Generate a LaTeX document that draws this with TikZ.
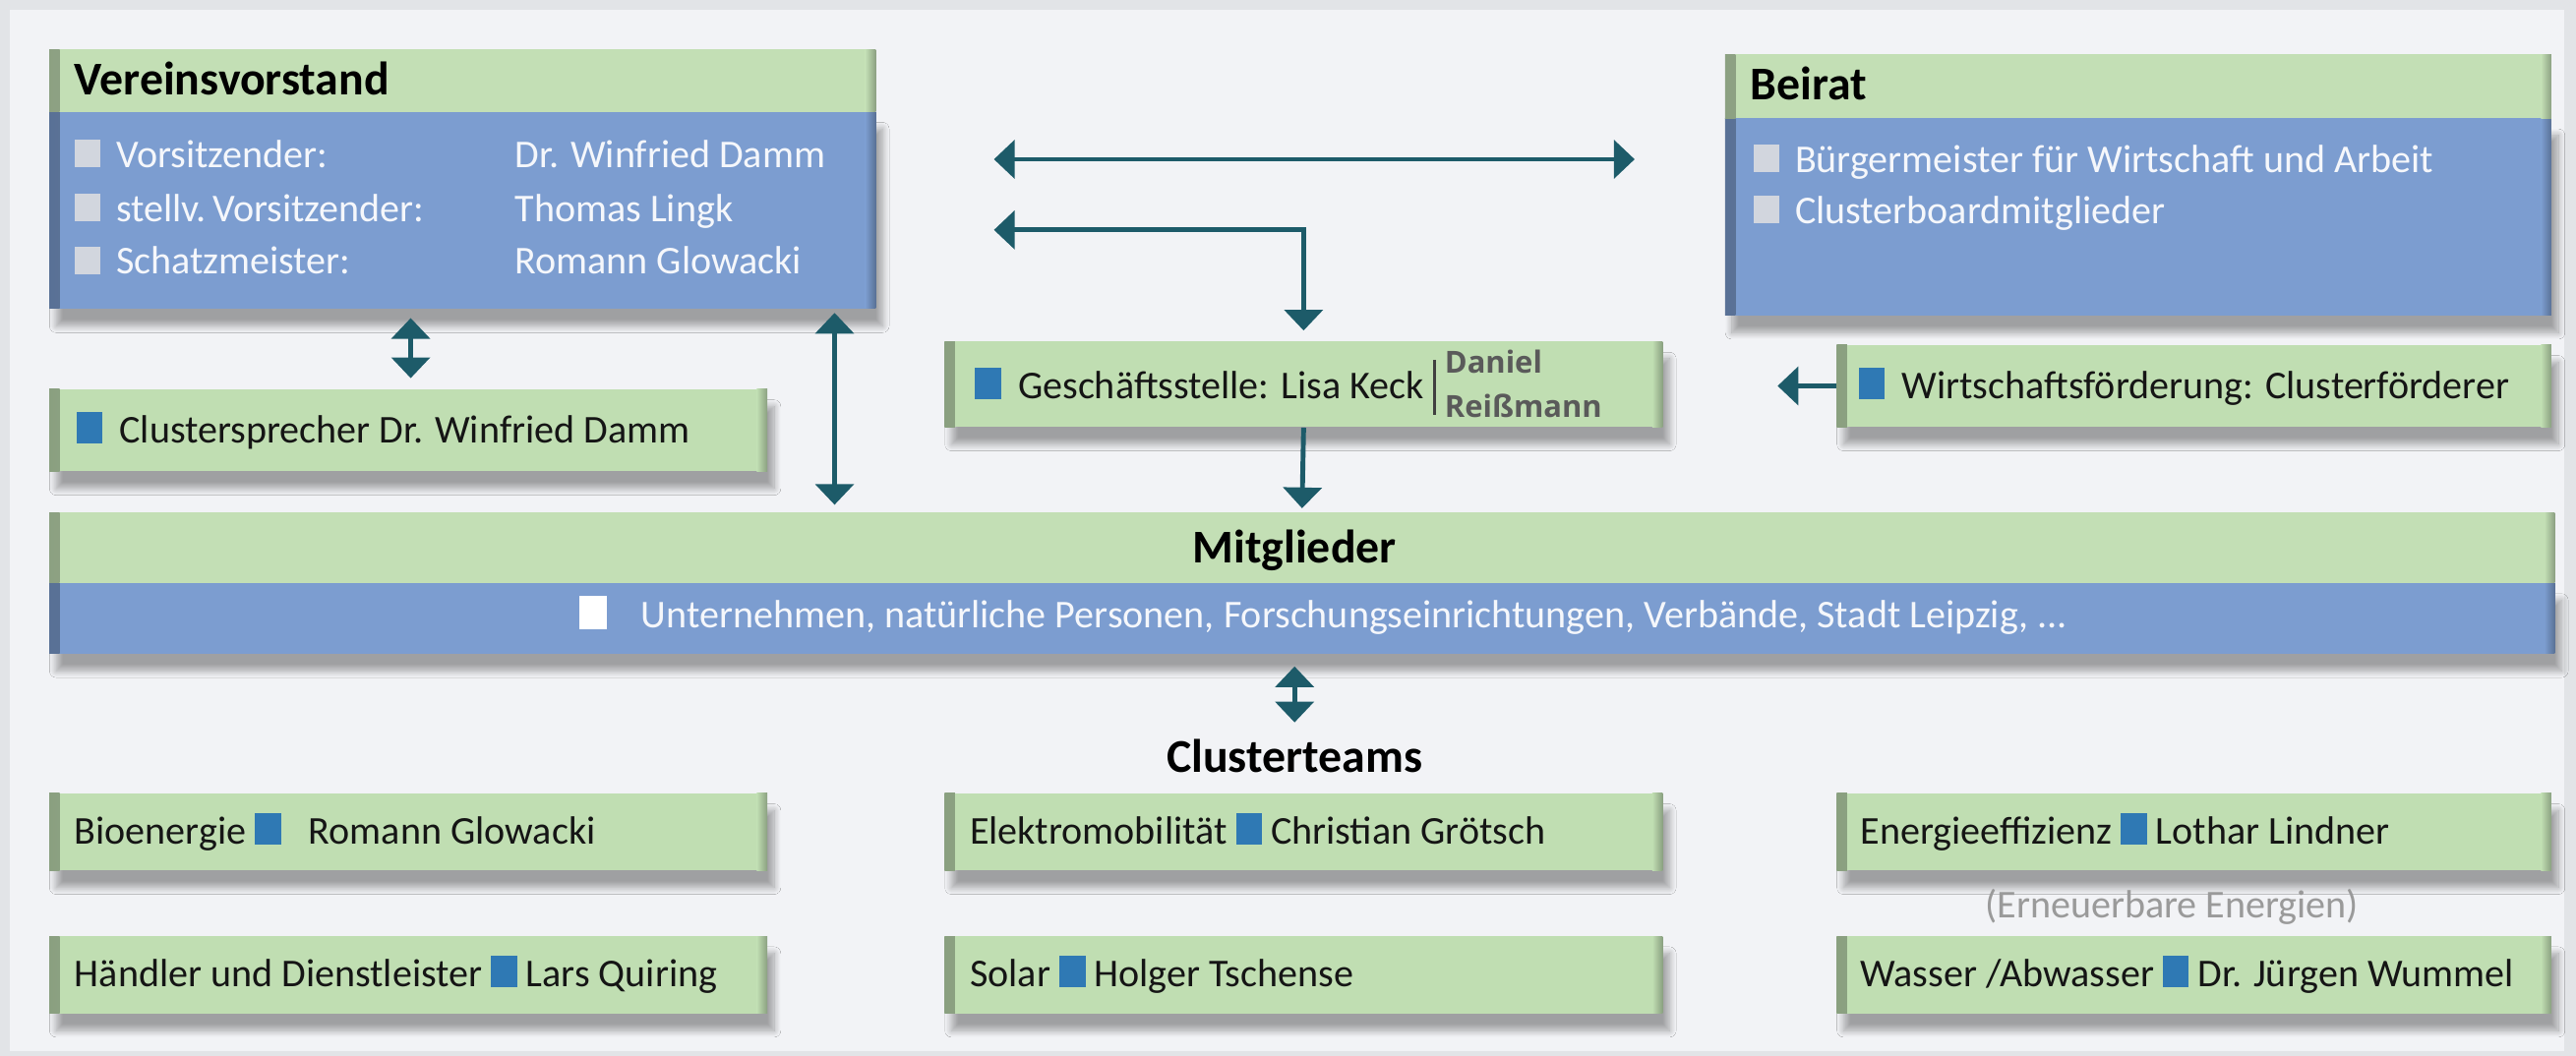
\documentclass[tikz,border=0pt]{standalone}
\usepackage{fontspec}
\setmainfont{Carlito}
\newfontfamily\dfont{Open Sans}
\usetikzlibrary{fit,arrows.meta,shadows.blur}

\definecolor{frame}{HTML}{E2E4E7}
\definecolor{panel}{HTML}{F2F3F6}
\definecolor{hgreen}{HTML}{C3DFB5}
\definecolor{bblue}{HTML}{7C9DD0}
\definecolor{cgreen}{HTML}{C0DEB2}
\definecolor{arrowc}{HTML}{1D5B69}
\definecolor{sqblue}{HTML}{2F79B4}
\definecolor{sqgrey}{HTML}{D2D6DE}
\definecolor{txtw}{HTML}{F5F7FB}
\definecolor{txtd}{HTML}{151515}
\definecolor{dgrey}{HTML}{5A5A5A}
\definecolor{paren}{HTML}{9A9A9A}

\newcommand{\bsq}{\textcolor{sqblue}{\rule[0pt]{7.5pt}{9pt}}}
\newcommand{\gsq}{\textcolor{sqgrey}{\rule[0pt]{7.5pt}{8pt}}}
\newcommand{\wsq}{\textcolor{white}{\rule[-0.5pt]{8pt}{9.5pt}}}

\tikzset{
  x=0.16703mm, y=-0.16703mm,
  edges/.style={path picture={
    \shade[left color=#1!72!black, right color=#1]
      (path picture bounding box.south west) rectangle ([xshift=3pt]path picture bounding box.north west);
    \shade[left color=#1, right color=#1!72!black]
      ([xshift=-3pt]path picture bounding box.south east) rectangle (path picture bounding box.north east);}},
  boxshadow/.style={blur shadow={shadow xshift=2pt, shadow yshift=-5pt, shadow blur steps=12, shadow opacity=34}},
  hdrg/.style={inner sep=0pt, fill=hgreen, edges=hgreen},
  bodyb/.style={inner sep=0pt, fill=bblue, edges=bblue, boxshadow},
  cbox/.style={inner sep=0pt, fill=cgreen, edges=cgreen, boxshadow},
  hd/.style={inner sep=0pt, anchor=base west, font=\fontsize{13.6}{15}\selectfont\bfseries, text=black},
  hdc/.style={inner sep=0pt, anchor=base, font=\fontsize{13.6}{15}\selectfont\bfseries, text=black},
  wt/.style={inner sep=0pt, anchor=base west, font=\fontsize{11.4}{13}\selectfont, text=txtw},
  dt/.style={inner sep=0pt, anchor=base west, font=\fontsize{11.4}{13}\selectfont, text=txtd},
  dn/.style={inner sep=0pt, anchor=base west, font=\dfont\fontsize{8.8}{10}\selectfont\bfseries, text=dgrey},
  conn/.style={draw=arrowc, line width=1.4pt, {Triangle[length=6pt,width=11pt]}-{Triangle[length=6pt,width=11pt]}},
  connr/.style={draw=arrowc, line width=1.4pt, -{Triangle[length=6pt,width=11pt]}},
}

\begin{document}
\begin{tikzpicture}
\useasboundingbox (0,0) rectangle (1568,643);
\fill[frame] (0,0) rectangle (1568,643);
\fill[panel] (6,6) rectangle (1561,640);

% Vereinsvorstand
\node[bodyb, fit={(30,68)(533,188)}] (vvb) {};
\node[hdrg, fit={(30,30)(533,68)}] (vvh) {};
\node[hd] (vvt) at (45,58) {Vereinsvorstand};
\node[wt] (vv1) at (45,102) {\gsq\hspace{4.5pt}Vorsitzender:};
\node[wt] (vv1n) at (313,102) {Dr. Winfried Damm};
\node[wt] (vv2) at (45,135) {\gsq\hspace{4.5pt}stellv.\,Vorsitzender:};
\node[wt] (vv2n) at (313,135) {Thomas Lingk};
\node[wt] (vv3) at (45,167) {\gsq\hspace{4.5pt}Schatzmeister:};
\node[wt] (vv3n) at (313,167) {Romann Glowacki};

% Beirat
\node[bodyb, fit={(1050,72)(1553,192)}] (brb) {};
\node[hdrg, fit={(1050,33)(1553,72)}] (brh) {};
\node[hd] (brt) at (1065,61) {Beirat};
\node[wt] (br1) at (1067,105) {\gsq\hspace{4.5pt}Bürgermeister für Wirtschaft und Arbeit};
\node[wt] (br2) at (1067,136) {\gsq\hspace{4.5pt}Clusterboardmitglieder};

% Clustersprecher
\node[cbox, fit={(30,237)(467,287)}] (csp) {};
\node[dt] (cspt) at (46,270) {\bsq\hspace{5pt}Clustersprecher Dr. Winfried Damm};

% Geschaeftsstelle
\node[cbox, fit={(575,208)(1012,260)}] (gst) {};
\node[dt] (gstt) at (593,243) {\bsq\hspace{5pt}Geschäftsstelle: Lisa Keck};
\node[inner sep=0pt, anchor=south] (gbar) at (873,253) {\textcolor{black!75}{\rule{0.8pt}{16pt}}};
\node[dn] (gd1) at (879,227) {Daniel};
\node[dn] (gd2) at (879,254) {Reißmann};

% Wirtschaftsfoerderung
\node[cbox, fit={(1118,210)(1553,260)}] (wf) {};
\node[dt] (wft) at (1131,243) {\bsq\hspace{5pt}Wirtschaftsförderung: Clusterförderer};

% Mitglieder
\node[bodyb, fit={(30,355)(1555,398)}] (mgb) {};
\node[hdrg, fit={(30,312)(1555,355)}] (mgh) {};
\node[hdc] (mgt) at (788,343) {Mitglieder};
\node[wt] (mg1) at (352,382) {\wsq\hspace{10pt}Unternehmen, natürliche Personen, Forschungseinrichtungen, Verbände, Stadt Leipzig, ...};

% Clusterteams
\node[hdc] (ctt) at (788,470) {Clusterteams};

\node[cbox, fit={(30,483)(467,530)}] (c11) {};
\node[cbox, fit={(575,483)(1012,530)}] (c12) {};
\node[cbox, fit={(1118,483)(1553,530)}] (c13) {};
\node[cbox, fit={(30,570)(467,617)}] (c21) {};
\node[cbox, fit={(575,570)(1012,617)}] (c22) {};
\node[cbox, fit={(1118,570)(1553,617)}] (c23) {};

\node[dt] (c11t) at (45,514) {Bioenergie \bsq\hspace{8pt}Romann Glowacki};
\node[dt] (c12t) at (590,514) {Elektromobilität \bsq\ Christian Grötsch};
\node[dt] (c13t) at (1132,514) {Energieeffizienz \bsq\ Lothar Lindner};
\node[inner sep=0pt, anchor=base, font=\fontsize{11.4}{13}\selectfont, text=paren] (ee) at (1322,559) {(Erneuerbare Energien)};
\node[dt] (c21t) at (45,601) {Händler und Dienstleister \bsq\ Lars Quiring};
\node[dt] (c22t) at (590,601) {Solar \bsq\ Holger Tschense};
\node[dt] (c23t) at (1132,601) {Wasser /Abwasser \bsq\ Dr. Jürgen Wummel};

% Connectors
\coordinate (a1l) at (605,97);
\coordinate (a1r) at (995,97);
\coordinate (a2l) at (605,140);
\coordinate (a4e) at (1082,235);
\draw[conn] (a1l) -- (a1r);
\draw[conn, shorten >=3pt] (a2l) -| (gst.north);
\draw[connr, shorten >=1pt] (gst.south) -- (mgh.north);
\draw[connr] (wf.west) -- (a4e);
\draw[conn, shorten <=2.5pt, shorten >=3pt] (vvb.south -| 250,0) -- (csp.north -| 250,0);
\draw[conn, shorten <=1pt, shorten >=2pt] (vvb.south -| 508,0) -- (mgh.north -| 508,0);
\draw[conn, shorten <=3.5pt, shorten >=1pt] (mgb.south -| 788,0) -- (788,442);
\end{tikzpicture}
\end{document}
